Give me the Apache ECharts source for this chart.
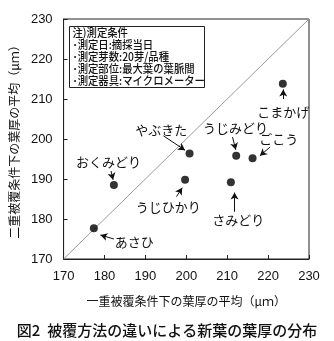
<!DOCTYPE html>
<html>
<head>
<meta charset="utf-8">
<script src="https://cdn.jsdelivr.net/npm/echarts@6/dist/echarts.min.js"></script>
<style>
  html, body { margin: 0; padding: 0; background: #fff; }
  #chart { width: 334px; height: 341px; }
</style>
</head>
<body>
<div id="chart"></div>
<script>
// 品種ごとの葉厚（μm）
const cultivars = ['あさひ', 'おくみどり', 'うじひかり', 'やぶきた', 'うじみどり', 'ごこう', 'さみどり', 'こまかげ'];
const singleCover = [177.4, 182.3, 199.7, 200.8, 212.2, 216.2, 210.9, 223.6];   // 一重被覆
const doubleCover = [177.7, 188.5, 189.8, 196.4, 195.8, 195.2, 189.2, 213.8];   // 二重被覆
const axisTicks = [170, 180, 190, 200, 210, 220, 230];
const noteLines = ['注)測定条件', '･測定日:摘採当日', '･測定芽数:20芽/品種', '･測定部位:最大葉の葉脈間', '･測定器具:マイクロメーター'];

// 品種名ラベルの位置と矢印（データ座標）
const labelAt = {
  'こまかげ':   { text: [223.7, 206.8], from: [223.7, 210.0], to: [223.7, 212.4] },
  'うじみどり': { text: [212.0, 202.8], from: [211.3, 200.5], to: [212.1, 197.3] },
  'ごこう':     { text: [222.6, 200.0], from: [220.5, 198.0], to: [218.0, 195.8] },
  'やぶきた':   { text: [193.9, 202.3], from: [194.4, 200.8], to: [199.7, 197.2] },
  'おくみどり': { text: [181.0, 194.3], from: [181.6, 192.0], to: [182.1, 189.8] },
  'うじひかり': { text: [195.6, 183.1], from: [197.6, 185.6], to: [199.0, 187.8] },
  'あさひ':     { text: [187.3, 174.3], from: [182.3, 175.0], to: [179.0, 176.0] },
  'さみどり':   { text: [212.7, 179.8], from: [211.8, 181.8], to: [211.8, 186.6] }
};

const jp = '"Noto Sans CJK JP", sans-serif';
const num = '"Liberation Sans", Arial, sans-serif';

const points = cultivars.map((n, i) => ({ name: n, value: [singleCover[i], doubleCover[i]] }));

const chart = echarts.init(document.getElementById('chart'), null, { renderer: 'canvas' });
chart.setOption({
  animation: false,
  backgroundColor: '#fff',
  title: {
    text: '図2  被覆方法の違いによる新葉の葉厚の分布',
    left: 'center', top: 318,
    textStyle: { fontFamily: jp, fontSize: 15, fontWeight: 500, color: '#111' }
  },
  grid: { left: 63, right: 25, top: 19, bottom: 82, show: true, borderColor: '#222', borderWidth: 1, backgroundColor: 'transparent' },
  xAxis: {
    type: 'value', min: axisTicks[0], max: axisTicks[axisTicks.length - 1], interval: 10,
    name: '一重被覆条件下の葉厚の平均（μｍ）', nameLocation: 'middle', nameGap: 36,
    nameTextStyle: { fontFamily: jp, fontSize: 12, color: '#111' },
    axisLine: { show: true, lineStyle: { color: '#222' } },
    axisTick: { show: true, inside: true, length: 4, lineStyle: { color: '#222' } },
    axisLabel: { fontFamily: num, fontSize: 13, color: '#111', margin: 11 },
    splitLine: { show: false }
  },
  yAxis: {
    type: 'value', min: axisTicks[0], max: axisTicks[axisTicks.length - 1], interval: 10,
    name: '二重被覆条件下の葉厚の平均（μｍ）', nameLocation: 'middle', nameGap: 40, nameRotate: 90,
    nameTextStyle: { fontFamily: jp, fontSize: 12, color: '#111' },
    axisLine: { show: true, lineStyle: { color: '#222' } },
    axisTick: { show: true, inside: true, length: 4, lineStyle: { color: '#222' } },
    axisLabel: { fontFamily: num, fontSize: 13, color: '#111', margin: 11 },
    splitLine: { show: false }
  },
  series: [
    {
      // 1:1 の対角線
      type: 'line',
      data: [[axisTicks[0], axisTicks[0]], [axisTicks[axisTicks.length - 1], axisTicks[axisTicks.length - 1]]],
      symbol: 'none', silent: true, z: 1,
      lineStyle: { color: '#9a9a9a', width: 1 }
    },
    {
      type: 'scatter',
      data: points,
      symbol: 'circle', symbolSize: 8, z: 5,
      itemStyle: { color: '#000' },
      markPoint: {
        symbol: 'circle', symbolSize: 0, silent: true,
        label: { show: true, position: 'inside', formatter: p => p.name, fontFamily: jp, fontSize: 13, color: '#111' },
        data: cultivars.map(n => ({ name: n, coord: labelAt[n].text }))
      },
      markLine: {
        symbol: ['none', 'arrow'], symbolSize: [6, 7], silent: true,
        label: { show: false },
        lineStyle: { color: '#111', width: 1, type: 'solid' },
        data: cultivars.map(n => [{ coord: labelAt[n].from }, { coord: labelAt[n].to }])
      }
    }
  ],
  graphic: [
    {
      type: 'group', left: 69, top: 26,
      children: [
        { type: 'rect', shape: { x: 0, y: 0, width: 135, height: 61 }, style: { fill: '#fff', stroke: '#222', lineWidth: 1 } }
      ].concat(noteLines.map((t, i) => ({
        type: 'text', x: 3, y: 6 + i * 12.1, scaleX: 0.9,
        style: { text: t, fontFamily: jp, fontSize: 11.5, fontWeight: 500, fill: '#111', verticalAlign: 'middle', align: 'left' }
      })))
    }
  ]
});
</script>
</body>
</html>
